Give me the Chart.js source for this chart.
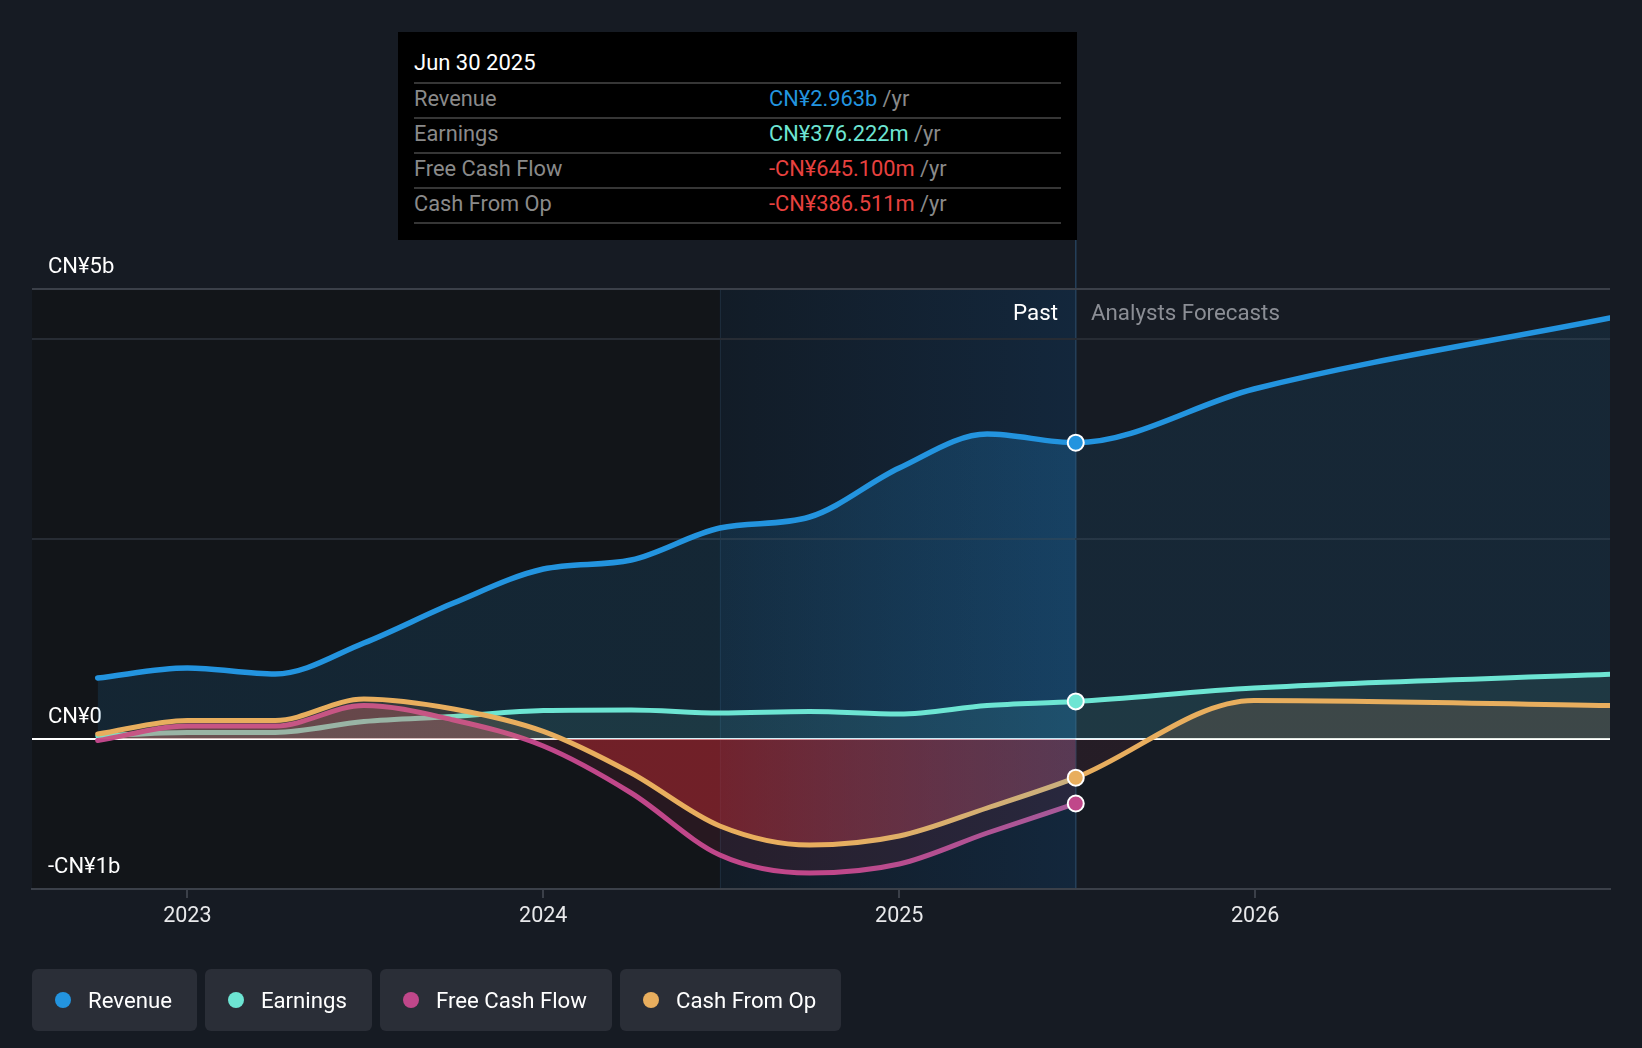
<!DOCTYPE html>
<html>
<head>
<meta charset="utf-8">
<script src="https://cdn.jsdelivr.net/npm/chart.js@4.4.1/dist/chart.umd.min.js"></script>
<style>
  html, body { margin: 0; padding: 0; width: 1642px; height: 1048px; overflow: hidden; background: #161b23; font-family: Roboto, "Noto Sans", sans-serif; }
  #wrap { position: absolute; left: 0; top: 0; width: 1642px; height: 1048px; }
  #tip { position: absolute; left: 398px; top: 32px; width: 679px; height: 208px; background: #000; }
  #tip .title { position: absolute; left: 16px; top: 18px; color: #fff; font-size: 22px; }
  #tip .rows { position: absolute; left: 16px; top: 50px; width: 647px; border-bottom: 2px solid #363636; }
  #tip .row { height: 33px; border-top: 2px solid #363636; position: relative; font-size: 21.8px; line-height: 29px; }
  #tip .lbl { position: absolute; left: 0; color: #8a8a8a; }
  #tip .val { position: absolute; left: 355px; }
  #tip .unit { color: #8a8a8a; }
  .note { position: absolute; top: 299px; font-size: 22.3px; line-height: 26px; }
  #past { right: 584px; color: #fff; }
  #fc { left: 1091px; color: #8b8e95; }
  #legend { position: absolute; left: 32px; top: 969px; height: 62px; display: flex; gap: 8px; }
  .lg { height: 62px; background: #2a2e37; border-radius: 6px; display: flex; align-items: center; padding: 0 25px 0 23px; color: #fff; font-size: 22.2px; box-sizing: border-box; }
  .lg .dot { width: 16px; height: 16px; border-radius: 50%; margin-right: 17px; }
</style>
</head>
<body>
<div id="wrap"><canvas id="chart"></canvas></div>

<div id="tip">
  <div class="title">Jun 30 2025</div>
  <div class="rows" id="tip-rows"></div>
</div>
<div class="note" id="past">Past</div>
<div class="note" id="fc">Analysts Forecasts</div>
<div id="legend"></div>

<script>
// quarter ends as decimal years
const pastDates = [2022.748, 2023.0, 2023.247, 2023.496, 2023.748, 2024.0, 2024.247, 2024.496, 2024.748, 2025.0, 2025.247, 2025.496];
const forecastDates = [2025.997, 2026.997];

// CN¥ billions
const revenuePast = [0.61, 0.71, 0.65, 0.96, 1.36, 1.70, 1.79, 2.11, 2.22, 2.71, 3.05, 2.963];
const revenueForecast = [3.50, 4.21];
const earningsPast = [0.03, 0.066, 0.066, 0.175, 0.225, 0.285, 0.29, 0.26, 0.275, 0.25, 0.335, 0.376];
const earningsForecast = [0.51, 0.647];
const fcfPast = [-0.015, 0.13, 0.13, 0.335, 0.19, -0.07, -0.54, -1.16, -1.34, -1.25, -0.94, -0.645];
const cfoPast = [0.05, 0.186, 0.186, 0.40, 0.30, 0.076, -0.34, -0.87, -1.06, -0.97, -0.69, -0.387];
const cfoForecast = [0.385, 0.334];

const seriesNames = ["Revenue", "Earnings", "Free Cash Flow", "Cash From Op"];
const seriesColors = ["#2394df", "#6de5d3", "#c0478a", "#e8ae5e"];
const tipValues = ["CN¥2.963b", "CN¥376.222m", "-CN¥645.100m", "-CN¥386.511m"];
const tipColors = ["#2394df", "#6de5d3", "#e8413f", "#e8413f"];

const xMin = 2022.5635;
const xMax = 2026.997;
const xTickValues = [2023, 2024, 2025, 2026];
const yMin = -1.5;
const yMax = 4.5;
const yTickValues = [-1.5, 0, 2, 4, 4.5];
const yTickLabels = ["-CN¥1b", "CN¥0", "", "", "CN¥5b"];

const splitDate = pastDates[7];
const pastEnd = pastDates[pastDates.length - 1];

// tooltip rows + legend
const rowsEl = document.getElementById("tip-rows");
seriesNames.forEach((name, i) => {
  const row = document.createElement("div");
  row.className = "row";
  row.innerHTML = `<span class="lbl">${name}</span><span class="val"><span style="color:${tipColors[i]}">${tipValues[i]}</span> <span class="unit">/yr</span></span>`;
  rowsEl.appendChild(row);
});
const legendEl = document.getElementById("legend");
seriesNames.forEach((name, i) => {
  const item = document.createElement("div");
  item.className = "lg";
  item.innerHTML = `<span class="dot" style="background:${seriesColors[i]}"></span>${name}`;
  legendEl.appendChild(item);
});

function toPoints(dates, values) {
  return dates.map((d, i) => ({ x: d, y: values[i] }));
}

function hGrad(chart, stops) {
  const area = chart.chartArea;
  if (!area) return null;
  const xs = chart.scales.x;
  const g = chart.ctx.createLinearGradient(area.left, 0, area.right, 0);
  stops.forEach(([v, c]) => {
    const f = (xs.getPixelForValue(v) - area.left) / area.width;
    g.addColorStop(Math.min(1, Math.max(0, f)), c);
  });
  return g;
}

function markerRadius(ctx) {
  return ctx.dataIndex === pastDates.length - 1 ? 8 : 0;
}

const backdropPlugin = {
  id: "backdrop",
  beforeDraw(chart) {
    const { ctx, chartArea: a, scales } = chart;
    const xs = scales.x;
    const xSplit = xs.getPixelForValue(splitDate);
    const xEnd = xs.getPixelForValue(pastEnd);
    ctx.save();
    ctx.fillStyle = "#121519";
    ctx.fillRect(a.left, a.top, xSplit - a.left, a.bottom - a.top);
    const g = ctx.createLinearGradient(xSplit, 0, xEnd, 0);
    g.addColorStop(0, "#121c27");
    g.addColorStop(1, "#13273c");
    ctx.fillStyle = g;
    ctx.fillRect(xSplit, a.top, xEnd - xSplit, a.bottom - a.top);
    ctx.strokeStyle = "#1c2b3a";
    ctx.lineWidth = 1;
    ctx.beginPath();
    ctx.moveTo(Math.round(xSplit) + 0.5, a.top);
    ctx.lineTo(Math.round(xSplit) + 0.5, a.bottom);
    ctx.stroke();
    ctx.strokeStyle = "#25405a";
    ctx.lineWidth = 1.5;
    ctx.beginPath();
    ctx.moveTo(xEnd, 240);
    ctx.lineTo(xEnd, a.bottom);
    ctx.stroke();
    ctx.restore();
  }
};

const revenueData = toPoints(pastDates.concat(forecastDates), revenuePast.concat(revenueForecast));
const earningsData = toPoints(pastDates.concat(forecastDates), earningsPast.concat(earningsForecast));
const fcfData = toPoints(pastDates, fcfPast);
const cfoData = toPoints(pastDates.concat(forecastDates), cfoPast.concat(cfoForecast));

const pointStyle = (i) => ({
  pointRadius: markerRadius,
  pointHoverRadius: 0,
  pointBackgroundColor: seriesColors[i],
  pointBorderColor: "#ffffff",
  pointBorderWidth: 2,
});

new Chart(document.getElementById("chart").getContext("2d"), {
  type: "line",
  data: {
    datasets: [
      Object.assign({
        label: "Revenue",
        data: revenueData,
        order: 4,
        borderColor: seriesColors[0],
        borderWidth: 5.5,
        fill: "origin",
        backgroundColor: (c) => hGrad(c.chart, [
          [xMin, "rgba(35,148,223,0.13)"],
          [splitDate, "rgba(35,148,223,0.14)"],
          [pastEnd - 0.002, "rgba(35,148,223,0.24)"],
          [pastEnd, "rgba(35,148,223,0.10)"],
          [xMax, "rgba(35,148,223,0.10)"],
        ]),
      }, pointStyle(0)),
      Object.assign({
        label: "Earnings",
        data: earningsData,
        order: 3,
        borderColor: seriesColors[1],
        borderWidth: 5,
        fill: "origin",
        backgroundColor: "rgba(109,229,211,0.09)",
      }, pointStyle(1)),
      Object.assign({
        label: "Free Cash Flow",
        data: fcfData,
        order: 2,
        borderColor: (c) => hGrad(c.chart, [
          [xMin, "#c0478a"],
          [2024.8, "#c0478a"],
          [pastEnd, "#a55a9a"],
        ]),
        borderWidth: 5,
        fill: {
          target: "origin",
          above: "rgba(200,90,110,0.33)",
          below: "rgba(160,50,75,0.15)",
        },
      }, pointStyle(2)),
      Object.assign({
        label: "Cash From Op",
        data: cfoData,
        order: 1,
        borderColor: (c) => hGrad(c.chart, [
          [xMin, "#e8ae5e"],
          [2024.8, "#e8ae5e"],
          [pastEnd - 0.002, "#c9b07f"],
          [pastEnd, "#e8ae5e"],
          [xMax, "#e8ae5e"],
        ]),
        borderWidth: 5,
        fill: {
          target: "origin",
          above: "rgba(232,170,100,0.15)",
          below: (c) => hGrad(c.chart, [
            [xMin, "rgba(190,40,45,0.5)"],
            [splitDate, "rgba(185,40,48,0.5)"],
            [pastEnd - 0.002, "rgba(190,95,130,0.32)"],
            [pastEnd, "rgba(180,50,70,0.1)"],
            [xMax, "rgba(180,50,70,0.1)"],
          ]),
        },
      }, pointStyle(3)),
    ],
  },
  options: {
    responsive: true,
    maintainAspectRatio: false,
    animation: false,
    events: [],
    layout: {
      padding: { top: 289, right: 32, bottom: 119, left: 32 },
    },
    elements: {
      line: { cubicInterpolationMode: "monotone", borderCapStyle: "round" },
    },
    plugins: {
      legend: { display: false },
      tooltip: { enabled: false },
    },
    scales: {
      x: {
        type: "linear",
        min: xMin,
        max: xMax,
        afterBuildTicks: (scale) => {
          scale.ticks = xTickValues.map((v) => ({ value: v }));
        },
        afterFit: (scale) => {
          scale.height = 40;
          scale.paddingLeft = 0;
          scale.paddingRight = 0;
        },
        border: { display: true, color: "#3b4049", width: 2 },
        grid: { drawOnChartArea: false, drawTicks: true, tickLength: 9, color: "#3b4049", lineWidth: 2 },
        ticks: {
          autoSkip: false,
          maxRotation: 0,
          padding: 6,
          color: "#e8e9eb",
          font: { family: "Roboto", size: 21.5 },
          callback: (v) => String(v),
        },
      },
      y: {
        type: "linear",
        min: yMin,
        max: yMax,
        afterBuildTicks: (scale) => {
          scale.ticks = yTickValues.map((v) => ({ value: v }));
        },
        afterFit: (scale) => {
          scale.width = 0;
          scale.paddingTop = 0;
          scale.paddingBottom = 0;
        },
        border: { display: false },
        grid: {
          drawTicks: false,
          lineWidth: 2,
          color: (c) => {
            const v = c.tick.value;
            if (v === 0) return "#ffffff";
            if (v === yMax) return "#3b4049";
            if (v === yMin) return "rgba(0,0,0,0)";
            return "#272c34";
          },
        },
        ticks: {
          mirror: true,
          padding: 16,
          labelOffset: -22,
          color: "#ffffff",
          font: { family: "Roboto", size: 22 },
          callback: (v) => {
            const i = yTickValues.indexOf(v);
            return i >= 0 ? yTickLabels[i] : "";
          },
        },
      },
    },
  },
  plugins: [backdropPlugin],
});
</script>
</body>
</html>
